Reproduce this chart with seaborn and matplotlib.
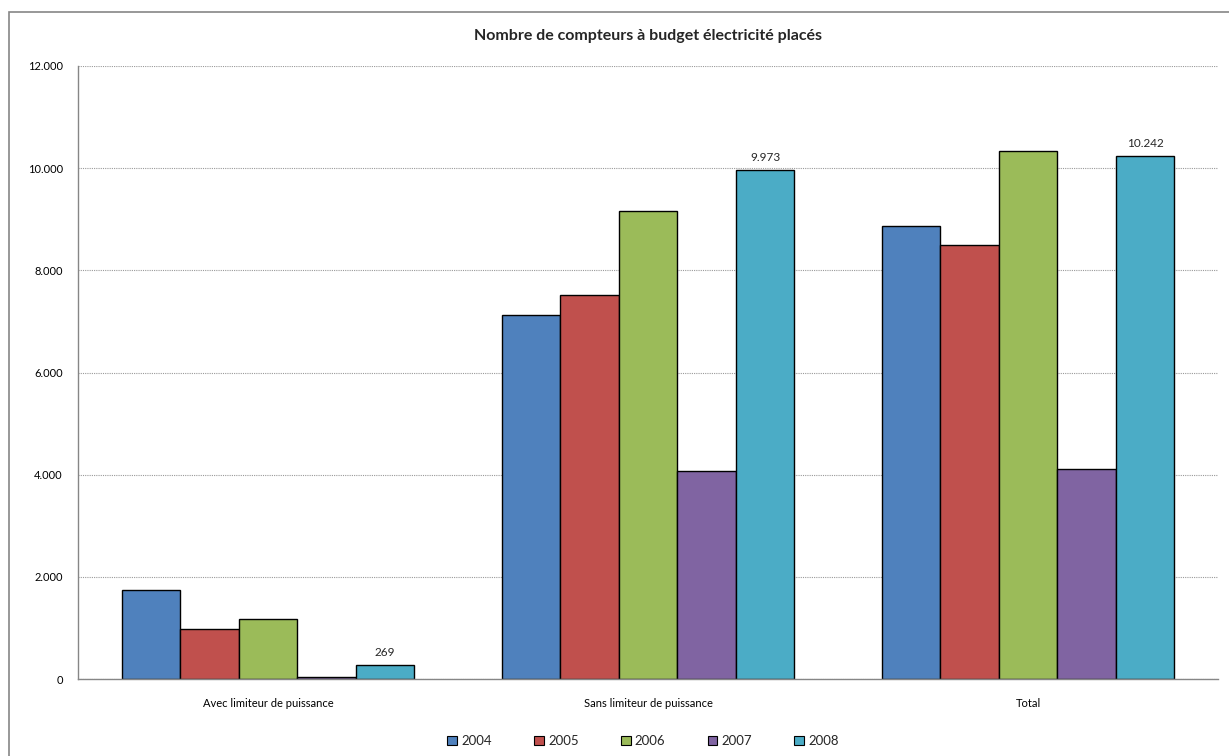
import numpy as np
import pandas as pd
import matplotlib
matplotlib.use("Agg")
import matplotlib.pyplot as plt
import matplotlib.patches as mpatches
from matplotlib.ticker import FuncFormatter, FixedLocator
import seaborn as sns

# Budget electricity meters placed, per category and year
categories = ["Avec limiteur de puissance", "Sans limiteur de puissance", "Total"]
years = ["2004", "2005", "2006", "2007", "2008"]
avec = [1745, 975, 1180, 45, 269]
sans = [7120, 7515, 9165, 4070, 9973]
total = [8865, 8490, 10345, 4115, 10242]
colors = ["#4F81BD", "#C0504D", "#9BBB59", "#8064A2", "#4BACC6"]

rows = []
for cat, vals in zip(categories, [avec, sans, total]):
    for yr, v in zip(years, vals):
        rows.append({"categorie": cat, "annee": yr, "valeur": v})
df = pd.DataFrame(rows)

sns.set_style("white")
plt.rcParams["font.family"] = ["Lato", "DejaVu Sans"]

W, H = 1229, 756
fig = plt.figure(figsize=(W / 100, H / 100), dpi=100)
ax = fig.add_axes([78 / W, 1 - 679 / H, (1218 - 78) / W, (679 - 66) / H])

sns.barplot(data=df, x="categorie", y="valeur", hue="annee",
            order=categories, hue_order=years, palette=colors,
            width=0.77, gap=0, edgecolor="black", linewidth=1.0,
            saturation=1, errorbar=None, ax=ax)

ax.set_ylim(0, 12000)
ax.set_xlim(-0.5, 2.5)
ax.set_yticks(np.arange(0, 12001, 2000))
ax.yaxis.set_major_formatter(FuncFormatter(lambda v, p: f"{v:,.0f}".replace(",", ".")))
ax.yaxis.grid(True, linestyle=(0, (1, 1)), color="#9a9a9a", linewidth=0.8)
ax.set_axisbelow(True)

ax.set_xlabel("")
ax.set_ylabel("")
for s in ["top", "right"]:
    ax.spines[s].set_visible(False)
for s in ["left", "bottom"]:
    ax.spines[s].set_color("#868686")
    ax.spines[s].set_linewidth(1.0)

# category separators as bottom ticks
ax.xaxis.set_minor_locator(FixedLocator([-0.5, 0.5, 1.5, 2.5]))
ax.tick_params(axis="x", which="major", length=0, labelsize=8, pad=14, colors="black")
ax.tick_params(axis="x", which="minor", length=5, color="#868686", width=1, direction="out")
ax.tick_params(axis="y", which="major", length=5, color="#868686", width=1,
               direction="out", labelsize=8, pad=6, colors="black")
ax.tick_params(axis="y", colors="#868686", labelcolor="black")

# value labels on the 2008 bars
last = ax.containers[-1]
ax.bar_label(last, labels=[f"{v:,.0f}".replace(",", ".") for v in
                           [avec[-1], sans[-1], total[-1]]],
             padding=5, fontsize=8.5)

fig.suptitle("Nombre de compteurs à budget électricité placés",
             x=0.5 * (78 + 1218) / W, y=1 - 36 / H, va="center",
             fontsize=11.5, fontweight="bold")

# legend under the plot
if ax.legend_ is not None:
    ax.legend_.remove()
handles = [mpatches.Patch(facecolor=c, edgecolor="black", linewidth=0.8) for c in colors]
fig.legend(handles, years, loc="center", ncol=5, frameon=False,
           bbox_to_anchor=(643 / W, 1 - 741 / H), fontsize=9.5,
           handlelength=0.75, handleheight=0.75, handletextpad=0.3,
           columnspacing=3.2)

# chart frame
frame = mpatches.Rectangle((9 / W, -0.1), 1.5, 1 - 12 / H + 0.1,
                           transform=fig.transFigure, fill=False,
                           edgecolor="#868686", linewidth=1.2)
fig.patches.append(frame)

fig.savefig("out.png", dpi=100)
